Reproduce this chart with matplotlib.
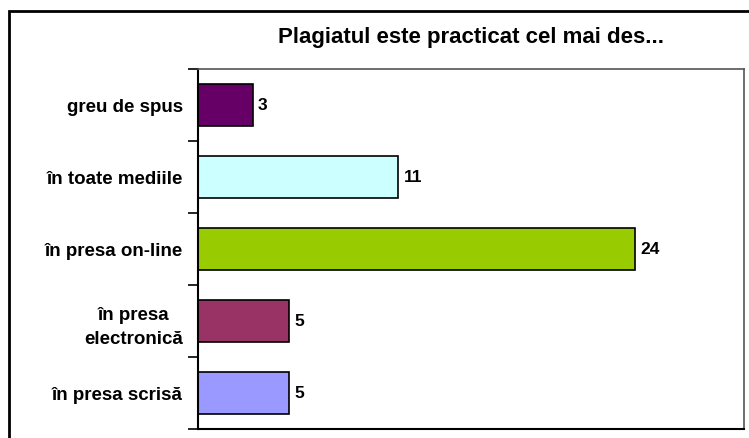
import matplotlib
matplotlib.use("Agg")
import matplotlib.pyplot as plt
from matplotlib.patches import Rectangle

# categories listed bottom to top
categories = ["în presa scrisă", "în presa\nelectronică", "în presa on-line",
              "în toate mediile", "greu de spus"]
values = [5, 5, 24, 11, 3]
colors = ["#9999FF", "#993366", "#99CC00", "#CCFFFF", "#660066"]

plt.rcParams["font.family"] = ["Liberation Sans", "DejaVu Sans"]

fig = plt.figure(figsize=(7.49, 4.39), dpi=100)
W, H = 749, 439
ax = fig.add_axes([198 / W, 1 - 430 / H, (744 - 198) / W, (430 - 70) / H])

pos = range(len(categories))
ax.barh(pos, values, height=0.57, color=colors, edgecolor="black", linewidth=1.2)
for p, v in zip(pos, values):
    ax.text(v + 0.3, p, str(v), va="center", ha="left", fontsize=12.5, fontweight="bold")

ax.set_xlim(0, 30)
ax.set_ylim(-0.5, len(categories) - 0.5)
ax.set_xticks([])
ax.set_yticks(pos)
ax.set_yticklabels(categories, fontsize=13.5, fontweight="bold", multialignment="center",
                   linespacing=1.5)
ax.set_yticks([p - 0.5 for p in pos] + [len(categories) - 0.5], minor=True)
ax.tick_params(axis="y", which="major", length=0, pad=11)
ax.tick_params(axis="y", which="minor", direction="out", length=7, width=1.2)

for side in ["left", "bottom"]:
    ax.spines[side].set_linewidth(1.5)
    ax.spines[side].set_color("black")
for side in ["top", "right"]:
    ax.spines[side].set_linewidth(1.2)
    ax.spines[side].set_color("#555555")

fig.text(471 / W, 1 - 38 / H, "Plagiatul este practicat cel mai des...",
         ha="center", va="center", fontsize=16, fontweight="bold")

fig.patches.append(Rectangle((9 / W, -0.05), 1.1, 1 - 12 / H + 0.05,
                             transform=fig.transFigure, fill=False,
                             edgecolor="black", linewidth=2))

fig.savefig("out.png", dpi=100)
